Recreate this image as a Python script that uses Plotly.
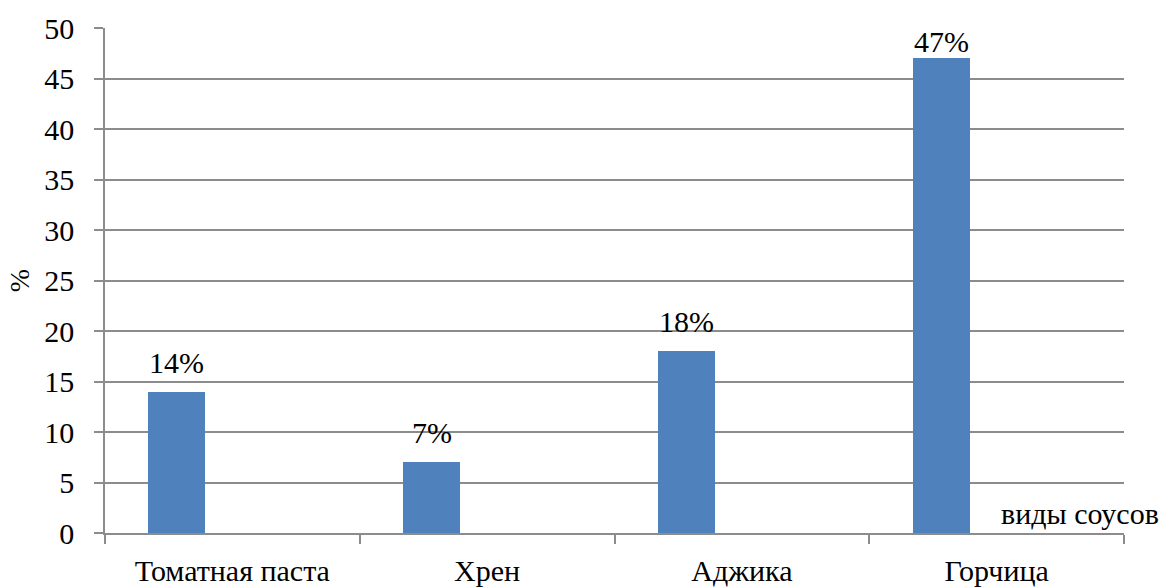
import plotly.graph_objects as go

categories = ["Томатная паста", "Хрен", "Аджика", "Горчица"]
values = [14, 7, 18, 47]
labels = ["14%", "7%", "18%", "47%"]
y_ticks = [0, 5, 10, 15, 20, 25, 30, 35, 40, 45, 50]

FONT = "Liberation Serif"
GRID = "#8c8c8c"
FS = 30
BAR_W = 0.224
BAR_OFF = -0.33
PX_PER_UNIT = (533 - 28) / 50

xs = list(range(len(categories)))

fig = go.Figure()
fig.add_trace(go.Bar(
    x=xs, y=values, width=BAR_W, offset=BAR_OFF,
    marker=dict(color="#4F81BD", line=dict(width=0)),
    showlegend=False, hoverinfo="x+y",
))

annotations = []
for xi, v, lab in zip(xs, values, labels):
    shift = min(11, (50 - v) * PX_PER_UNIT - 32)
    annotations.append(dict(
        x=xi + BAR_OFF + BAR_W / 2, y=v, xref="x", yref="y",
        text=lab, showarrow=False, yanchor="bottom", yshift=shift,
        font=dict(family=FONT, size=FS, color="black"),
    ))
annotations.append(dict(
    x=(1161 - 105) / (1124 - 105), xref="x domain", xanchor="right",
    y=(533 - 513) / (533 - 28), yref="y domain", yanchor="middle",
    text="виды соусов", showarrow=False,
    font=dict(family=FONT, size=FS, color="black"),
))

fig.update_layout(
    template="none",
    width=1165, height=587,
    margin=dict(l=105, r=41, t=28, b=54),
    paper_bgcolor="white", plot_bgcolor="white",
    font=dict(family=FONT, size=FS, color="black"),
    xaxis=dict(
        range=[-0.5, 3.5], tickmode="array", tickvals=xs, ticktext=categories,
        ticks="", showgrid=False, showline=True, linecolor=GRID, linewidth=1.5,
        zeroline=False, tickfont=dict(family=FONT, size=FS, color="black"),
        ticklabelstandoff=10,
        minor=dict(tickmode="array", tickvals=[-0.5, 0.5, 1.5, 2.5, 3.5],
                   ticks="outside", ticklen=9, tickcolor=GRID, tickwidth=1.5),
        fixedrange=True,
    ),
    yaxis=dict(
        range=[0, 50], tickmode="array", tickvals=y_ticks,
        ticks="outside", ticklen=9, tickcolor=GRID, tickwidth=1.5,
        showgrid=True, gridcolor=GRID, gridwidth=1.5,
        showline=True, linecolor=GRID, linewidth=1.5, zeroline=False,
        tickfont=dict(family=FONT, size=FS, color="black"),
        ticklabelstandoff=14,
        title=dict(text="%", font=dict(family=FONT, size=28, color="black"), standoff=6),
        fixedrange=True,
    ),
    bargap=0,
    annotations=annotations,
)

fig.write_html("out.html")
